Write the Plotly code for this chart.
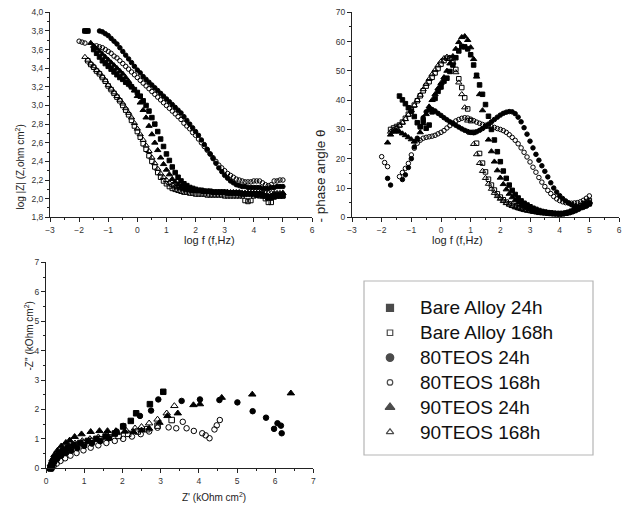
import plotly.graph_objects as go

N = None
FONT = "Liberation Sans, Arial, sans-serif"

NAMES = ["Bare Alloy 24h", "Bare Alloy 168h", "80TEOS 24h", "80TEOS 168h", "90TEOS 24h", "90TEOS 168h"]
SYMBOLS = ["square", "square-open", "circle", "circle-open", "triangle-up", "triangle-up-open"]

# log f grid (f in Hz)
LOG_F = [-2.0, -1.9, -1.8, -1.7, -1.6, -1.5, -1.4, -1.3, -1.2, -1.1,
         -1.0, -0.9, -0.8, -0.7, -0.6, -0.5, -0.4, -0.3, -0.2, -0.1,
         0.0, 0.1, 0.2, 0.3, 0.4, 0.5, 0.6, 0.7, 0.8, 0.9,
         1.0, 1.1, 1.2, 1.3, 1.4, 1.5, 1.6, 1.7, 1.8, 1.9,
         2.0, 2.1, 2.2, 2.3, 2.4, 2.5, 2.6, 2.7, 2.8, 2.9,
         3.0, 3.1, 3.2, 3.3, 3.4, 3.5, 3.6, 3.7, 3.8, 3.9,
         4.0, 4.1, 4.2, 4.3, 4.4, 4.5, 4.6, 4.7, 4.8, 4.9,
         5.0]

# ---- log |Z| ----
LOGZ_BA24 = [N, N, 3.80, 3.80, N, 3.60, 3.56, 3.52, 3.48, 3.45,
             3.42, 3.39, 3.36, 3.33, 3.30, 3.28, 3.25, 3.23, 3.20, 3.17,
             3.14, 3.10, 3.05, 3.00, 2.94, 2.87, 2.80, 2.72, 2.64, 2.56,
             2.48, 2.41, 2.34, 2.28, 2.23, 2.19, 2.16, 2.14, 2.12, 2.11,
             2.10, 2.09, 2.09, 2.08, 2.08, 2.08, 2.07, 2.07, 2.07, 2.07,
             2.07, 2.06, 2.06, 2.06, 2.06, 2.06, 2.05, 2.05, 2.05, 2.05,
             2.05, 2.04, 2.04, 2.04, 2.03, 2.02, 2.01, 2.02, 2.03, 2.03,
             2.03]
LOGZ_BA168 = [N, N, N, 3.48, 3.44, 3.41, 3.37, 3.34, 3.30, 3.26,
              3.21, 3.17, 3.13, 3.09, 3.05, 3.00, 2.95, 2.90, 2.84, 2.78,
              2.72, 2.66, 2.59, 2.53, 2.46, 2.40, 2.34, 2.28, 2.23, 2.19,
              2.16, 2.13, 2.11, 2.10, 2.09, 2.08, 2.07, 2.07, 2.06, 2.06,
              2.05, 2.05, 2.05, 2.05, 2.04, 2.04, 2.04, 2.04, 2.04, 2.04,
              2.03, 2.03, 2.03, 2.03, 2.03, 2.03, 2.03, 1.98, 1.97, 1.98,
              2.03, 2.04, 2.03, 2.03, 2.00, 1.96, 1.96, 2.02, 2.03, 2.03,
              2.03]
LOGZ_T80_24 = [N, N, 3.80, 3.80, N, N, N, 3.80, 3.79, 3.77,
               3.75, 3.72, 3.69, 3.66, 3.62, 3.58, 3.54, 3.50, 3.46, 3.42,
               3.38, 3.35, 3.31, 3.28, 3.25, 3.22, 3.19, 3.16, 3.13, 3.10,
               3.07, 3.04, 3.01, 2.98, 2.95, 2.92, 2.88, 2.84, 2.80, 2.76,
               2.72, 2.68, 2.63, 2.58, 2.53, 2.48, 2.43, 2.38, 2.33, 2.29,
               2.25, 2.22, 2.19, 2.17, 2.15, 2.14, 2.13, 2.13, 2.12, 2.12,
               2.12, 2.12, 2.12, 2.11, 2.11, 2.11, 2.12, 2.12, 2.13, 2.13,
               2.13]
LOGZ_T80_168 = [3.69, 3.68, 3.67, N, N, N, 3.64, 3.63, 3.62, 3.60,
                3.58, 3.56, 3.53, 3.51, 3.48, 3.45, 3.42, 3.39, 3.36, 3.33,
                3.30, 3.27, 3.24, 3.21, 3.18, 3.15, 3.12, 3.09, 3.06, 3.03,
                3.00, 2.97, 2.94, 2.91, 2.88, 2.85, 2.81, 2.78, 2.75, 2.71,
                2.68, 2.64, 2.60, 2.56, 2.52, 2.48, 2.44, 2.40, 2.36, 2.33,
                2.30, 2.27, 2.25, 2.23, 2.21, 2.20, 2.19, 2.18, 2.18, 2.18,
                2.19, 2.19, 2.19, 2.17, 2.15, 2.14, 2.15, 2.19, 2.19, 2.20,
                2.20]
LOGZ_T90_24 = [N, N, N, N, 3.67, 3.64, 3.61, 3.58, 3.55, 3.52,
               3.49, 3.46, 3.43, 3.40, 3.37, 3.34, 3.30, 3.26, 3.21, 3.16,
               3.10, 3.03, 2.95, 2.87, 2.78, 2.69, 2.60, 2.52, 2.44, 2.37,
               2.31, 2.26, 2.21, 2.18, 2.15, 2.13, 2.11, 2.10, 2.09, 2.09,
               2.08, 2.08, 2.08, 2.07, 2.07, 2.07, 2.07, 2.07, 2.07, 2.07,
               2.07, 2.07, 2.06, 2.06, 2.06, 2.06, 2.06, 2.06, 2.06, 2.06,
               2.06, 2.06, 2.06, 2.05, 2.02, 2.00, 2.03, 2.05, 2.05, 2.05,
               2.06]
LOGZ_T90_168 = [N, N, 3.52, 3.49, 3.45, 3.42, 3.38, 3.35, 3.31, 3.27,
                3.22, 3.18, 3.14, 3.10, 3.06, 3.02, 2.97, 2.92, 2.87, 2.81,
                2.75, 2.69, 2.63, 2.57, 2.51, 2.44, 2.38, 2.32, 2.27, 2.23,
                2.20, 2.17, 2.15, 2.13, 2.12, 2.11, 2.10, 2.09, 2.09, 2.08,
                2.08, 2.08, 2.08, 2.08, 2.07, 2.07, 2.07, 2.07, 2.07, 2.07,
                2.07, 2.07, 2.07, 2.07, 2.07, 2.07, 2.06, 2.06, 2.06, 2.06,
                2.06, 2.06, 2.06, 2.06, 2.06, 2.06, 2.06, 2.06, 2.06, 2.06,
                2.06]

# ---- - phase angle (deg) ----
PH_BA24 = [N, N, N, N, N, N, 41.4, 40.1, 38.8, 37.4,
           36.2, 34.4, 32.3, 30.9, 33.0, 30.4, 31.5, 36.0, 40.6, 43.0,
           44.5, 46.5, 47.5, 49.8, 52.0, 54.5, 56.8, 58.3, 58.2, 57.5,
           55.5, 52.0, 48.5, 45.2, 42.0, 38.5, 34.5, 30.0, 26.4, 22.4,
           19.0, 15.8, 13.3, 11.0, 9.2, 7.8, 6.6, 5.6, 4.8, 4.2,
           3.6, 3.1, 2.7, 2.3, 2.0, 1.8, 1.6, 1.5, 1.4, 1.3,
           1.3, 1.3, 1.4, 1.6, 1.9, 2.3, 2.8, 3.3, 3.8, 4.2,
           4.6]
PH_BA168 = [N, N, N, 30.0, 30.5, 31.0, 31.5, 32.5, 33.8, 35.2,
            36.8, 38.3, 39.8, 41.5, 43.2, 44.8, 46.3, 47.8, 49.3, 50.8,
            52.3, 53.5, 54.3, 54.3, 53.0, 50.5, 47.3, 44.3, 40.8, 37.0,
            33.0, 29.0, 25.3, 21.8, 18.5, 15.5, 13.0, 11.0, 9.3, 8.0,
            6.9, 6.0, 5.2, 4.6, 4.1, 3.7, 3.3, 3.0, 2.7, 2.5,
            2.3, 2.1, 1.9, 1.7, 1.6, 1.5, 1.4, 1.3, 1.2, 1.2,
            1.1, 1.2, 1.4, 1.7, 2.1, 2.7, 3.3, 4.0, 4.6, 5.2,
            5.7]
PH_T80_24 = [N, N, 13.3, 11.0, N, N, N, 12.9, 14.5, 17.0,
             20.0, 24.0, 27.0, 31.0, 34.0, 36.0, 36.8, 36.8, 36.3, 35.5,
             34.8, 34.0, 33.3, 32.6, 32.0, 31.4, 30.8, 30.2, 29.7, 29.3,
             29.0, 28.9, 29.2, 29.7, 30.3, 31.0, 31.8, 32.6, 33.4, 34.2,
             34.9, 35.5, 35.9, 36.1, 36.0, 35.4, 34.2, 32.6, 30.6, 28.4,
             26.0, 23.7, 21.5, 19.5, 17.6, 15.7, 13.8, 11.8, 10.0, 8.6,
             7.4, 6.4, 5.6, 4.9, 4.3, 3.8, 3.5, 3.3, 3.4, 3.8,
             4.5]
PH_T80_168 = [20.7, 18.7, 17.3, N, N, N, 13.9, 15.3, 16.7, 18.4,
              21.3, 23.6, 25.3, 26.3, 27.0, 27.3, 27.5, 27.7, 28.0, 28.5,
              29.0, 29.6, 30.5, 31.3, 32.2, 32.9, 33.4, 33.8, 34.0, 33.9,
              33.5, 33.0, 32.5, 32.1, 31.7, 31.4, 31.1, 30.9, 30.7, 30.3,
              30.0, 29.6, 29.0, 28.2, 27.3, 26.3, 25.1, 23.7, 22.2, 20.6,
              18.9, 17.1, 15.4, 13.6, 12.0, 10.5, 9.2, 8.1, 7.1, 6.3,
              5.7, 5.3, 5.0, 4.9, 4.8, 4.9, 5.0, 5.3, 5.8, 6.5,
              7.3]
PH_T90_24 = [N, N, 25.5, 28.2, 29.2, 29.5, 29.2, 28.6, 28.0, 27.3,
             26.6, 25.8, 26.5, 29.0, 32.0, 35.2, 37.8, 40.0, 42.0, 44.0,
             45.8, 47.8, 50.0, 52.5, 55.0, 57.5, 59.8, 61.5, 61.8, 60.5,
             58.0, 54.0, 48.0, 42.0, 36.5, 31.0, 26.5, 22.5, 19.0, 16.0,
             13.5, 11.3, 9.5, 8.0, 6.8, 5.8, 5.0, 4.3, 3.7, 3.2,
             2.8, 2.4, 2.1, 1.9, 1.7, 1.5, 1.4, 1.3, 1.2, 1.2,
             1.2, 1.2, 1.3, 1.5, 1.8, 2.2, 2.7, 3.3, 3.9, 4.5,
             5.0]
PH_T90_168 = [N, N, N, 29.2, 29.8, 30.5, 31.3, 32.3, 33.5, 35.0,
              36.5, 38.2, 40.0, 41.8, 43.7, 45.5, 47.2, 48.8, 50.3, 51.8,
              53.2, 54.3, 54.8, 54.5, 52.8, 49.5, 46.0, 42.0, 37.5, 33.0,
              28.8, 25.0, 21.5, 18.5, 15.8, 13.4, 11.4, 9.7, 8.3, 7.2,
              6.3, 5.5, 4.8, 4.3, 3.8, 3.4, 3.1, 2.8, 2.5, 2.3,
              2.1, 1.9, 1.8, 1.6, 1.5, 1.4, 1.3, 1.2, 1.2, 1.1,
              1.1, 1.2, 1.3, 1.6, 2.0, 2.5, 3.1, 3.7, 4.3, 4.9,
              5.4]

# ---- Nyquist: Z' and -Z'' (kOhm cm2) ----
ZRE_BA24 = [0.12, 0.15, 0.20, 0.27, 0.35, 0.45, 0.58, 0.73, 0.90, 1.10, 1.32, 1.56, 1.80, 2.02, 2.22, 2.36, 2.72, 3.07]
ZIM_BA24 = [0.00, 0.12, 0.25, 0.38, 0.50, 0.60, 0.70, 0.78, 0.86, 0.93, 1.00, 1.08, 1.18, 1.42, 1.61, 1.87, 2.18, 2.60]
ZRE_BA168 = [0.12, 0.15, 0.20, 0.28, 0.38, 0.50, 0.65, 0.82, 1.00, 1.20, 1.42, 1.65, 1.90, 2.15, 2.40, 2.65, 2.92, 3.29]
ZIM_BA168 = [0.00, 0.12, 0.25, 0.38, 0.50, 0.62, 0.72, 0.80, 0.87, 0.93, 0.99, 1.05, 1.10, 1.17, 1.25, 1.33, 1.45, 1.64]
ZRE_T80_24 = [0.12, 0.16, 0.22, 0.30, 0.40, 0.52, 0.66, 0.82, 1.00, 1.20, 1.42, 1.65, 1.85, 2.02, 2.46, 2.75, 2.94,
              3.55, 4.03, 4.54, 5.01, 5.41, 5.76, 6.06, 6.15, 5.97, 6.17]
ZIM_T80_24 = [0.00, 0.10, 0.22, 0.33, 0.43, 0.52, 0.60, 0.68, 0.76, 0.84, 0.92, 1.02, 1.25, 1.44, 1.78, 1.96, 2.34,
              2.29, 2.34, 2.32, 2.24, 1.94, 1.72, 1.53, 1.45, 1.34, 1.19]
ZRE_T80_168 = [0.15, 0.20, 0.28, 0.38, 0.50, 0.64, 0.80, 0.98, 1.17, 1.37, 1.58, 1.80, 2.02, 2.25, 2.48, 2.70, 2.92,
               3.21, 3.41, 3.58, 3.68, 3.87, 4.09, 4.18, 4.28, 4.41, 4.47, 4.55]
ZIM_T80_168 = [0.00, 0.08, 0.16, 0.25, 0.34, 0.43, 0.52, 0.61, 0.70, 0.78, 0.86, 0.93, 1.00, 1.08, 1.16, 1.25, 1.38,
               1.39, 1.36, 1.58, 1.36, 1.27, 1.19, 1.12, 1.02, 1.32, 1.46, 1.64]
ZRE_T90_24 = [0.10, 0.13, 0.17, 0.22, 0.30, 0.40, 0.52, 0.62, 0.75, 0.93, 1.17, 1.40, 1.61, 1.83, 2.06, 2.29, 2.50,
              2.70, 2.97, 3.18, 3.45, 3.86, 4.03, 4.60, 5.40, 6.41]
ZIM_T90_24 = [0.00, 0.15, 0.30, 0.45, 0.60, 0.75, 0.87, 0.95, 1.07, 1.16, 1.24, 1.27, 1.27, 1.27, 1.25, 1.24, 1.29,
              1.35, 1.55, 1.78, 1.87, 2.15, 2.18, 2.40, 2.51, 2.55]
ZRE_T90_168 = [0.12, 0.15, 0.20, 0.27, 0.36, 0.47, 0.60, 0.76, 0.95, 1.15, 1.37, 1.60, 1.85, 2.10, 2.33, 2.50, 2.70,
               2.92, 3.16, 3.36]
ZIM_T90_168 = [0.00, 0.14, 0.28, 0.42, 0.55, 0.67, 0.77, 0.85, 0.93, 1.00, 1.06, 1.13, 1.20, 1.28, 1.36, 1.41, 1.53,
               1.66, 1.87, 2.12]

LOGZ_ALL = [LOGZ_BA24, LOGZ_BA168, LOGZ_T80_24, LOGZ_T80_168, LOGZ_T90_24, LOGZ_T90_168]
PH_ALL = [PH_BA24, PH_BA168, PH_T80_24, PH_T80_168, PH_T90_24, PH_T90_168]
ZRE_ALL = [ZRE_BA24, ZRE_BA168, ZRE_T80_24, ZRE_T80_168, ZRE_T90_24, ZRE_T90_168]
ZIM_ALL = [ZIM_BA24, ZIM_BA168, ZIM_T80_24, ZIM_T80_168, ZIM_T90_24, ZIM_T90_168]
LEGEND_ROWS = list(range(len(NAMES)))

W, H = 627, 505


def px_x(p):
    return p / W


def px_y(p):
    return (H - p) / H


fig = go.Figure()

for i, name in enumerate(NAMES):
    sym = SYMBOLS[i]
    tri = "triangle" in sym
    small = dict(symbol=sym, size=5.5 if tri else 4.5, color="black",
                 line=dict(color="black", width=1))
    big = dict(symbol=sym, size=6.5 if tri else 5.5, color="black",
               line=dict(color="black", width=1))
    fig.add_trace(go.Scatter(x=LOG_F, y=LOGZ_ALL[i], mode="markers", marker=small,
                             name=name, xaxis="x", yaxis="y", cliponaxis=False))
    fig.add_trace(go.Scatter(x=LOG_F, y=PH_ALL[i], mode="markers", marker=small,
                             name=name, xaxis="x2", yaxis="y2", cliponaxis=False))
    fig.add_trace(go.Scatter(x=ZRE_ALL[i], y=ZIM_ALL[i], mode="markers", marker=big,
                             name=name, xaxis="x3", yaxis="y3", cliponaxis=False))

# legend symbols
fig.add_trace(go.Scatter(
    x=[0] * len(NAMES), y=LEGEND_ROWS, mode="markers",
    marker=dict(symbol=SYMBOLS, size=[7, 5.5, 7.5, 5.5, 8.5, 6.5], color="black",
                line=dict(color="black", width=1.2)),
    xaxis="x4", yaxis="y4", hoverinfo="skip", cliponaxis=False))

tickfont = dict(family=FONT, size=8.5, color="#333")


def axis(domain, rng, dtick, minor, anchor, **kw):
    d = dict(domain=domain, range=rng, dtick=dtick, tick0=0, anchor=anchor,
             showline=True, linecolor="#222", linewidth=1, mirror=False,
             ticks="outside", ticklen=4, tickwidth=1, tickcolor="#222",
             showgrid=False, zeroline=False, tickfont=tickfont, automargin=False,
             minor=dict(ticks="outside", ticklen=2, tickwidth=1, tickcolor="#222",
                        dtick=minor, showgrid=False))
    d.update(kw)
    return d


TOP_Y = [px_y(217.3), px_y(12.3)]
fig.update_layout(
    width=W, height=H, margin=dict(l=0, r=0, t=0, b=0),
    paper_bgcolor="white", plot_bgcolor="white", showlegend=False,
    separators=",.", font=dict(family=FONT, color="#222"),
    xaxis=axis([px_x(50), px_x(312)], [-3, 6], 1, 0.5, "y"),
    yaxis=axis(TOP_Y, [1.8, 4.0], 0.2, 0.1, "x", tickformat=".1f", tick0=1.8),
    xaxis2=axis([px_x(352), px_x(619)], [-3, 6], 1, 0.5, "y2"),
    yaxis2=axis(TOP_Y, [0, 70], 10, 5, "x2"),
    xaxis3=axis([px_x(46), px_x(313.4)], [0, 7], 1, 0.5, "y3"),
    yaxis3=axis([px_y(468.3), px_y(262.3)], [0, 7], 1, 0.5, "x3"),
    xaxis4=dict(domain=[px_x(380), px_x(400)], range=[-1, 1], visible=False, anchor="y4"),
    yaxis4=dict(domain=[px_y(444.5), px_y(295.5)], range=[5.5, -0.5], visible=False, anchor="x4"),
)

# legend frame
fig.add_shape(type="rect", xref="paper", yref="paper",
              x0=px_x(364), x1=px_x(593), y0=px_y(455), y1=px_y(281),
              line=dict(color="#b5b5b5", width=1.2), fillcolor="rgba(0,0,0,0)")

for i, name in enumerate(NAMES):
    fig.add_annotation(text=name, xref="paper", yref="y4", x=px_x(418), y=LEGEND_ROWS[i],
                       xanchor="left", yanchor="middle", showarrow=False,
                       font=dict(family=FONT, size=19, color="#111"))

title_font = dict(family=FONT, color="#222")
# axis titles
fig.add_annotation(text="log f (f,Hz)", xref="paper", yref="paper", x=px_x(182), y=px_y(240),
                   showarrow=False, font=dict(title_font, size=11))
fig.add_annotation(text="log f (f,Hz)", xref="paper", yref="paper", x=px_x(485), y=px_y(240),
                   showarrow=False, font=dict(title_font, size=11))
fig.add_annotation(text="log |Z| (Z,ohm cm<sup>2</sup>)", xref="paper", yref="paper",
                   x=px_x(11), y=px_y(123), textangle=-90, showarrow=False,
                   font=dict(title_font, size=10))
fig.add_annotation(text="- phase angle θ", xref="paper", yref="paper",
                   x=px_x(320), y=px_y(128), textangle=-90, showarrow=False,
                   font=dict(title_font, size=13.5))
fig.add_annotation(text="Z' (kOhm cm<sup>2</sup>)", xref="paper", yref="paper",
                   x=px_x(180), y=px_y(497), yanchor="middle", showarrow=False,
                   font=dict(title_font, size=10))
fig.add_annotation(text="-Z'' (kOhm cm<sup>2</sup>)", xref="paper", yref="paper",
                   x=px_x(20), y=px_y(373), textangle=-90, showarrow=False,
                   font=dict(title_font, size=10))

fig.write_html("out.html")
